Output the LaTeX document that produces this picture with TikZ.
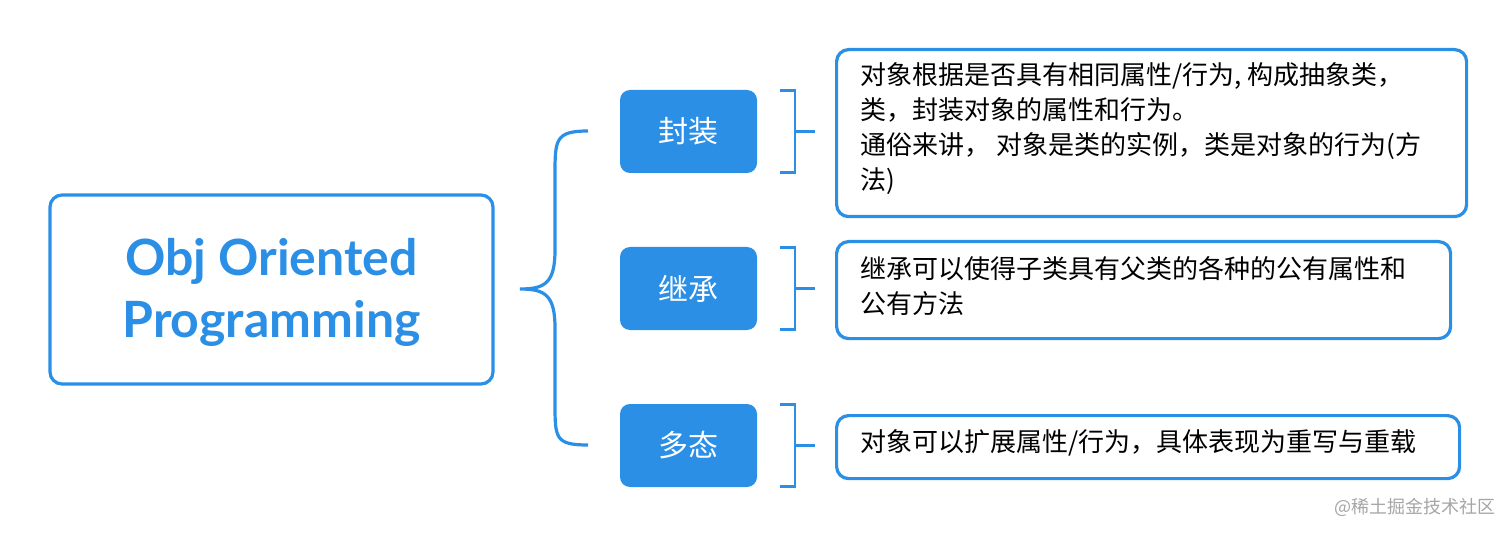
\documentclass[tikz,border=0pt]{standalone}
\usepackage{fontspec}
\setmainfont{Noto Sans CJK SC}
\newfontfamily\titlefont{Lato}[BoldFont=* Bold]
\definecolor{xblue}{HTML}{2B8FE6}
\begin{document}
\begin{tikzpicture}[x=0.5pt,y=-0.5pt,
 frame/.style={draw=xblue,line width=1.6pt,rounded corners=6pt},
 topic/.style={fill=xblue,rounded corners=5pt,minimum width=68.5pt,minimum height=41.5pt,text=white,font=\fontsize{15}{18}\selectfont},
 desc/.style={anchor=north west,align=left,font=\fontsize{13}{17.5}\selectfont,inner sep=0pt},
 brk/.style={draw=xblue,line width=1.3pt}]
\fill[white] (0,0) rectangle (1512,535);
\useasboundingbox (0,0) rectangle (1512,535);
\node[frame,minimum width=221.5pt,minimum height=94.5pt] (root) at (271.5,289.5) {};
\node[text=xblue,font=\titlefont\bfseries\fontsize{25}{31}\selectfont,align=center] (rt) at (271.5,292) {Obj Oriented\\Programming};
\coordinate (bl) at (520,289);
\draw[brk,line width=1.6pt] (588,131) .. controls (555,131) and (555,140) .. (555,175) -- (555,250) .. controls (555,283) and (545,289) .. (bl)
 .. controls (545,289) and (555,295) .. (555,328) -- (555,403) .. controls (555,438) and (555,445) .. (588,445);
\node[topic] (t1) at (688.5,131.5) {封装};
\node[topic] (t2) at (688.5,288.5) {继承};
\node[topic] (t3) at (688.5,445.5) {多态};
\foreach \y in {131.5,288.5,445.5}{
 \draw[brk] (780,\y-41) -- (795,\y-41) -- (795,\y+41) -- (780,\y+41);
 \draw[brk] (795,\y) -- (815,\y);}
\node[frame,minimum width=315pt,minimum height=83.5pt,anchor=north west] (d1) at (835,48) {};
\node[frame,minimum width=307pt,minimum height=48.5pt,anchor=north west] (d2) at (835,240) {};
\node[frame,minimum width=311.5pt,minimum height=31.5pt,anchor=north west] (d3) at (835,414) {};
\node[desc] (x1) at (860,62) {对象根据是否具有相同属性/行为, 构成抽象类，\\类，封装对象的属性和行为。\\通俗来讲， 对象是类的实例，类是对象的行为(方\\法)};
\node[desc] (x2) at (860,256) {继承可以使得子类具有父类的各种的公有属性和\\公有方法};
\node[desc] (x3) at (860,429) {对象可以扩展属性/行为，具体表现为重写与重载};
\node[anchor=east,text=gray!70,font=\fontsize{9}{11}\selectfont,inner sep=0pt] (wm) at (1496,507) {@稀土掘金技术社区};
\end{tikzpicture}
\end{document}
